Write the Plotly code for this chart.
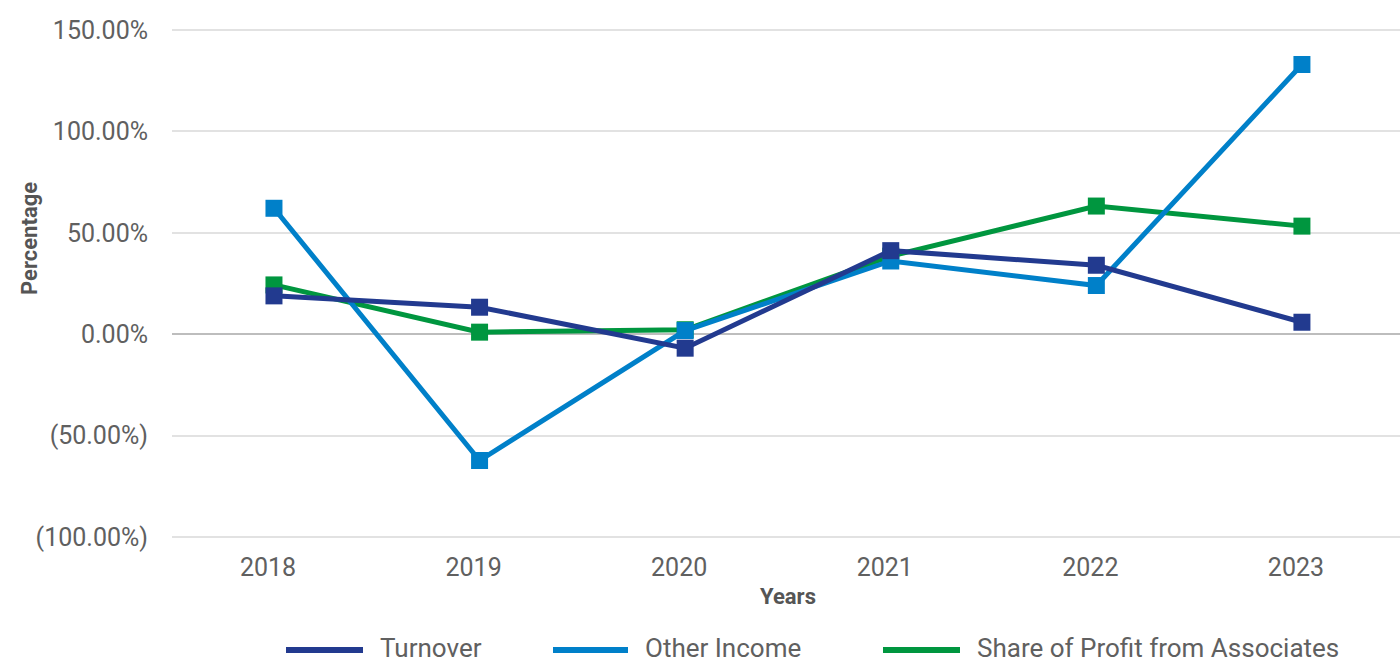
import plotly.graph_objects as go

# Year-on-year growth, in percent
years = ["2018", "2019", "2020", "2021", "2022", "2023"]
turnover = [18.9, 13.3, -6.9, 41.2, 34.0, 5.9]
other_income = [62.1, -62.3, 1.8, 36.1, 24.0, 133.0]
share_profit = [24.3, 1.0, 2.2, 38.5, 63.2, 53.3]

y_ticks = [-100, -50, 0, 50, 100, 150]
y_tick_text = ["(100.00%)", "(50.00%)", "0.00%", "50.00%", "100.00%", "150.00%"]

series_names = ["Turnover", "Other Income", "Share of Profit from Associates"]
series_colors = ["#223A8F", "#0080C9", "#00963F"]
series_values = [turnover, other_income, share_profit]

W, H = 1400, 664
M_L, M_R, M_T, M_B = 172, 0, 26, 123
FONT = "Roboto"
TEXT_GREY = "#606060"

fig = go.Figure()

# draw green first, navy last so it sits on top
for idx in [2, 1, 0]:
    fig.add_trace(go.Scatter(
        x=years, y=series_values[idx], name=series_names[idx],
        mode="lines+markers",
        line=dict(color=series_colors[idx], width=5),
        marker=dict(symbol="square", size=17, color=series_colors[idx]),
        showlegend=False,
    ))

fig.update_layout(
    width=W, height=H,
    margin=dict(l=M_L, r=M_R, t=M_T, b=M_B, pad=0),
    paper_bgcolor="white", plot_bgcolor="white",
    font=dict(family=FONT, color=TEXT_GREY, size=25),
    xaxis=dict(
        type="category", range=[-0.496, 5.477],
        showgrid=False, zeroline=False, showline=False,
        ticks="outside", ticklen=4, tickcolor="rgba(0,0,0,0)",
        ticklabelshift=-6,
        tickfont=dict(size=25, color=TEXT_GREY),
    ),
    yaxis=dict(
        range=[-102, 152],
        tickvals=y_ticks, ticktext=y_tick_text,
        showgrid=True, gridcolor="#e2e2e2", gridwidth=2,
        zeroline=True, zerolinecolor="#bdbdbd", zerolinewidth=2,
        showline=False,
        ticks="outside", ticklen=18, tickcolor="rgba(0,0,0,0)",
        tickfont=dict(size=25, color=TEXT_GREY),
    ),
)

plot_w = W - M_L - M_R
plot_h = H - M_T - M_B


def px_to_paper(px, py):
    return (px - M_L) / plot_w, (H - M_B - py) / plot_h


# axis titles
tx, ty = px_to_paper(30, 239)
fig.add_annotation(x=tx, y=ty, xref="paper", yref="paper", text="<b>Percentage</b>",
                   textangle=-90, showarrow=False, xanchor="center", yanchor="middle",
                   font=dict(size=22, color="#555555"))
tx, ty = px_to_paper(788, 596)
fig.add_annotation(x=tx, y=ty, xref="paper", yref="paper", text="<b>Years</b>",
                   showarrow=False, xanchor="center", yanchor="middle",
                   font=dict(size=22, color="#555555"))

# legend row along the bottom edge
legend_keys = [(286, 363, 378), (553, 628, 643), (883, 960, 975)]
legend_y = 648
for (x0, x1, xt), name, color in zip(legend_keys, series_names, series_colors):
    a0, b0 = px_to_paper(x0, legend_y + 2)
    a1, _ = px_to_paper(x1, legend_y + 2)
    fig.add_shape(type="line", xref="paper", yref="paper", x0=a0, x1=a1, y0=b0, y1=b0,
                  line=dict(color=color, width=6))
    at, bt = px_to_paper(xt, legend_y)
    fig.add_annotation(x=at, y=bt, xref="paper", yref="paper", text=name, showarrow=False,
                       xanchor="left", yanchor="middle", font=dict(size=26, color=TEXT_GREY))

fig.write_html("out.html")
